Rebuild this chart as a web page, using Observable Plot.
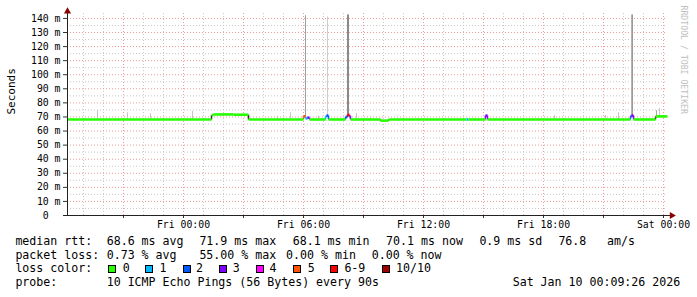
<!DOCTYPE html>
<html><head><meta charset="utf-8">
<script src="https://cdn.jsdelivr.net/npm/d3@7"></script>
<script src="https://cdn.jsdelivr.net/npm/@observablehq/plot@0.6"></script>
<style>
html,body{margin:0;padding:0;background:#fff;}
#wrap{position:relative;width:697px;height:297px;overflow:hidden;font-family:"DejaVu Sans Mono",monospace;background:#fff;}
#wrap svg{position:absolute;left:0;top:0;}
.lg{position:absolute;font-size:11.6px;line-height:14px;white-space:pre;color:#000;}
.sw{position:absolute;width:6px;height:6px;border:1px solid #000;}
</style></head><body><div id="wrap"></div>
<script>
// ---- data ----
const rangeStart = "2026-01-08T18:12";
const rangeEnd = "2026-01-10T00:12";

const lossLabels = ["0", "1", "2", "3", "4", "5", "6-9", "10/10"];
const lossColors = ["#26ff00", "#00b8ff", "#0059ff", "#7e00ff", "#ff00ff", "#ff5500", "#ff0000", "#a10000"];

// median rtt (ms), step segments starting at given time, with loss class index
const medianTimes = ["2026-01-08T18:12","2026-01-09T01:24","2026-01-09T01:30","2026-01-09T02:30","2026-01-09T03:15",
  "2026-01-09T06:00","2026-01-09T06:06","2026-01-09T06:12","2026-01-09T06:18",
  "2026-01-09T07:06","2026-01-09T07:09","2026-01-09T07:15",
  "2026-01-09T08:06","2026-01-09T08:12","2026-01-09T08:18","2026-01-09T08:21",
  "2026-01-09T09:51","2026-01-09T10:15","2026-01-09T14:09","2026-01-09T14:15",
  "2026-01-09T15:06","2026-01-09T15:12","2026-01-09T22:21","2026-01-09T22:24","2026-01-09T22:30","2026-01-09T23:36"];
const medianValues = [68.2, 71.3, 71.8, 71.6, 68.2,
  70.5, 69.0, 69.5, 68.2,
  70.2, 71.0, 68.2,
  70.0, 71.5, 70.5, 68.2,
  67.4, 68.2, 68.2, 68.2,
  71.0, 68.2, 70.5, 71.0, 68.2, 70.4];
const medianLoss = [0, 0, 0, 0, 0,
  5, 1, 3, 0,
  1, 2, 0,
  2, 6, 3, 0,
  0, 0, 1, 0,
  3, 0, 2, 3, 0, 0];

// smoke (spread of the 10 pings) where it shows above the median line
const smokeTimes = ["2026-01-08T19:42","2026-01-08T21:12","2026-01-08T22:21","2026-01-09T00:27","2026-01-09T04:42",
  "2026-01-09T05:21","2026-01-09T06:06","2026-01-09T06:45","2026-01-09T07:12","2026-01-09T08:12","2026-01-09T08:15",
  "2026-01-09T08:39","2026-01-09T09:21","2026-01-09T18:33","2026-01-09T21:06","2026-01-09T21:45",
  "2026-01-09T22:24","2026-01-09T22:27","2026-01-09T23:39","2026-01-09T23:48"];
const smokeLow = [68.5, 68.5, 68.5, 68.5, 68.5,
  68.5, 69.0, 68.5, 70.0, 70.0, 70.0,
  68.5, 68.5, 68.5, 68.5, 68.5,
  70.0, 70.0, 69.0, 70.0];
const smokeHigh = [74.5, 73.0, 72.3, 74.0, 70.5,
  73.0, 142.0, 70.5, 141.0, 142.5, 142.5,
  72.5, 70.0, 71.0, 71.0, 73.0,
  142.5, 142.5, 74.5, 76.0];
const smokeShade = ["#c4c4c4","#c4c4c4","#c4c4c4","#c4c4c4","#c4c4c4",
  "#c4c4c4","#a0a0a0","#c4c4c4","#cdcdcd","#8a8a8a","#8a8a8a",
  "#c4c4c4","#c4c4c4","#c4c4c4","#c4c4c4","#c4c4c4",
  "#b4b4b4","#9a9a9a","#a8a8a8","#c8c8c8"];

const yTicks = [0, 10, 20, 30, 40, 50, 60, 70, 80, 90, 100, 110, 120, 130, 140];
const yTickLabels = ["0\u00a0\u00a0","10 m","20 m","30 m","40 m","50 m","60 m","70 m","80 m","90 m","100 m","110 m","120 m","130 m","140 m"];
const xTickTimes = ["2026-01-09T00:00","2026-01-09T06:00","2026-01-09T12:00","2026-01-09T18:00","2026-01-10T00:00"];
const xTickLabels = ["Fri 00:00","Fri 06:00","Fri 12:00","Fri 18:00","Sat 00:00"];

const rttStats = ["68.6 ms avg", "71.9 ms max", "68.1 ms min", "70.1 ms now", "0.9 ms sd", "76.8", "am/s"];
const lossStats = ["0.73 % avg", "55.00 % max", "0.00 % min", "0.00 % now"];
const probeText = "10 ICMP Echo Pings (56 Bytes) every 90s";
const stampText = "Sat Jan 10 00:09:26 2026";

// ---- build ----
const parse = d3.utcParse("%Y-%m-%dT%H:%M");
const t0 = parse(rangeStart), t1 = parse(rangeEnd);
const xTicks = xTickTimes.map(parse);

const horiz = [], verts = [];
medianTimes.forEach((s, i) => {
  const a = parse(s), b = parse(medianTimes[i + 1] ?? rangeEnd);
  const v = medianValues[i];
  horiz.push({a, b, v, c: lossColors[medianLoss[i]]});
  if (i > 0) {
    const vp = medianValues[i - 1];
    const c = medianLoss[i] > 0 ? lossColors[medianLoss[i]] : (medianLoss[i-1] > 0 ? lossColors[medianLoss[i-1]] : "#2a2a2a");
    if (Math.abs(vp - v) > 0.3) verts.push({t: a, v1: vp, v2: v, c});
  }
});
const smoke = smokeTimes.map((s, i) => ({a: parse(s), b: d3.utcMinute.offset(parse(s), 3), lo: smokeLow[i], hi: smokeHigh[i], c: smokeShade[i]}));

const hours = d3.utcHour.range(d3.utcHour.ceil(t0), t1);
const majorX = hours.filter(d => d.getUTCHours() % 3 === 0);
const minorX = hours.filter(d => d.getUTCHours() % 3 !== 0);
const majorY = d3.range(10, 141, 10);
const minorY = d3.range(5, 141, 10);

const chart = Plot.plot({
  width: 697, height: 232,
  marginLeft: 67, marginRight: 30, marginTop: 13, marginBottom: 17,
  style: {fontFamily: "'DejaVu Sans Mono', monospace", fontSize: "9.8px", background: "white", overflow: "visible", color: "#000"},
  x: {type: "utc", domain: [t0, t1], axis: null},
  y: {domain: [0, 143.5], axis: null},
  color: {type: "identity"},
  marks: [
    Plot.ruleX(minorX, {stroke: "#c8c8c8", strokeDasharray: "1,2"}),
    Plot.ruleY(minorY, {stroke: "#c8c8c8", strokeDasharray: "1,2"}),
    Plot.ruleX(majorX, {stroke: "#ee9a9a", strokeDasharray: "1,2"}),
    Plot.ruleY(majorY, {stroke: "#ee9a9a", strokeDasharray: "1,2"}),
    Plot.rect(smoke, {x1: "a", x2: "b", y1: "lo", y2: "hi", fill: "c"}),
    Plot.link(verts, {x1: "t", x2: "t", y1: "v1", y2: "v2", stroke: "c", strokeWidth: 1.5}),
    Plot.link(horiz, {x1: "a", x2: "b", y1: "v", y2: "v", stroke: "c", strokeWidth: 2.6}),
    Plot.axisY({ticks: yTicks, tickSize: 4, tickPadding: 3, tickFormat: d => yTickLabels[yTicks.indexOf(d)], label: null, fill: "#000", stroke: "#333"}),
    Plot.axisX({ticks: majorX, tickSize: 3, tickFormat: () => "", label: null, stroke: "#333"}),
    Plot.axisX({ticks: xTicks, tickSize: 0, tickPadding: 6, tickFormat: d => xTickLabels[xTicks.findIndex(t => +t === +d)], label: null, fill: "#000"}),
    Plot.ruleX([t0], {y1: 0, y2: 146, stroke: "#222"}),
    Plot.ruleY([0], {x1: d3.utcMinute.offset(t0, -12), x2: d3.utcMinute.offset(t1, 9), stroke: "#222", strokeWidth: 1.2}),
    Plot.dot([0], {x: t0, y: 145, symbol: "triangle", r: 2.6, fill: "#8b0000", stroke: null}),
    Plot.dot([0], {x: d3.utcMinute.offset(t1, 13), y: 0, symbol: "triangle", r: 2.6, rotate: 90, fill: "#8b0000", stroke: null}),
    Plot.text(["Seconds"], {text: d => d, frameAnchor: "left", dx: -56, rotate: -90, fontSize: 11, fill: "#000"}),
    Plot.text(["RRDTOOL / TOBI OETIKER"], {text: d => d, frameAnchor: "top-right", dx: 19, dy: -8, rotate: 90, textAnchor: "start", fontSize: 8.2, fill: "#c0c0c0"})
  ]
});

const wrap = document.getElementById("wrap");
wrap.appendChild(chart);

function put(x, top, text) {
  const s = document.createElement("span");
  s.className = "lg";
  s.style.left = (x - 0.6) + "px";
  s.style.top = top + "px";
  s.textContent = text;
  wrap.appendChild(s);
}
const tops = [234, 247.5, 261, 275];
put(16, tops[0], "median rtt:");
[107.3, 200, 293.3, 386.7, 480, 559, 607.7].forEach((x, i) => put(x, tops[0], rttStats[i]));
put(16, tops[1], "packet loss:");
[107.3, 200, 286.7, 372.3].forEach((x, i) => put(x, tops[1], lossStats[i]));
put(16, tops[2], "loss color:");
const swX = [108.3, 145.3, 182.5, 219.3, 256.3, 293.3, 330, 381.7];
const lbX = [123.3, 160, 196.7, 233.3, 270, 308.3, 345, 396.7];
lossLabels.forEach((l, i) => {
  const b = document.createElement("div");
  b.className = "sw";
  b.style.left = swX[i] + "px";
  b.style.top = "264.5px";
  b.style.background = lossColors[i];
  wrap.appendChild(b);
  put(lbX[i], tops[2], l);
});
put(16, tops[3], "probe:");
put(107.3, tops[3], probeText);
put(513.3, tops[3], stampText);
</script>
</body></html>
